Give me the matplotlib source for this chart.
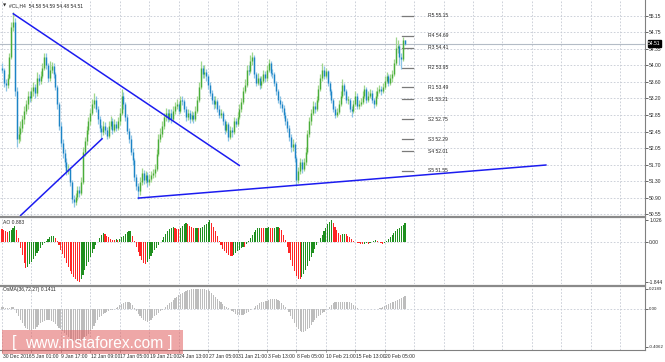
import numpy as np
import matplotlib
matplotlib.use("Agg")
import matplotlib.pyplot as plt
from matplotlib.patches import Rectangle
from matplotlib.lines import Line2D

plt.rcParams["font.family"] = ["Liberation Sans", "DejaVu Sans"]

# ---------------- data ----------------
opens = [
    53.95, 53.90, 53.60, 53.55, 53.72, 54.20, 54.90, 55.00, 53.40, 52.30,
    52.40, 52.55, 52.75, 52.95, 53.10, 53.30, 53.25, 53.40, 53.50, 53.35,
    53.70, 53.65, 53.76, 53.95, 54.20, 54.00, 53.70, 53.90, 53.99, 53.80,
    53.50, 53.10, 52.60, 52.20, 51.96, 51.75, 51.55, 51.60, 51.30, 50.90,
    50.82, 50.95, 51.10, 51.05, 51.30, 52.00, 52.25, 52.50, 52.70, 52.90,
    53.10, 53.20, 53.00, 52.75, 52.55, 52.45, 52.60, 52.50, 52.37, 52.60,
    52.70, 52.50, 52.65, 52.55, 52.70, 52.90, 53.30, 53.10, 52.80, 52.48,
    52.30, 52.00, 51.80, 51.40, 51.20, 51.08, 51.30, 51.50, 51.35, 51.45,
    51.30, 51.37, 51.45, 51.50, 51.60, 51.95, 52.30, 52.42, 52.60, 52.80,
    52.90, 52.75, 52.90, 52.75, 52.95, 53.05, 53.10, 52.95, 53.20, 53.18,
    53.00, 52.80, 52.90, 52.75, 52.85, 52.75, 52.95, 53.20, 53.50, 53.95,
    53.80, 53.85, 53.75, 53.55, 53.35, 53.20, 53.10, 53.17, 53.00, 52.85,
    52.90, 52.70, 52.50, 52.63, 52.35, 52.50, 52.45, 52.70, 52.65, 52.81,
    53.00, 53.15, 53.40, 53.55, 53.90, 53.88, 54.10, 54.20, 53.80, 53.60,
    53.70, 53.54, 53.65, 53.80, 53.70, 53.90, 54.05, 53.83, 53.80, 53.60,
    53.40, 53.20, 53.10, 53.01, 52.85, 52.70, 52.55, 52.35, 52.10, 52.17,
    51.85, 51.35, 51.55, 51.75, 51.60, 51.75, 52.00, 52.40, 52.70, 52.90,
    53.05, 53.00, 53.20, 53.45, 53.70, 53.90, 53.75, 53.86, 53.60, 53.40,
    53.20, 53.00, 52.85, 52.93, 53.10, 53.30, 53.55, 53.40, 53.20, 53.20,
    53.00, 52.95, 53.10, 53.30, 53.05, 53.11, 53.15, 53.30, 53.45, 53.20,
    53.30, 53.36, 53.20, 53.10, 53.30, 53.40, 53.45, 53.40, 53.50, 53.65,
    53.75, 53.60, 53.70, 53.80, 54.05, 54.40, 54.45, 54.20, 54.15, 54.58,
]
closes = [
    53.90, 53.60, 53.55, 53.72, 54.20, 54.90, 55.00, 53.40, 52.30, 52.40,
    52.55, 52.75, 52.95, 53.10, 53.30, 53.25, 53.40, 53.50, 53.35, 53.70,
    53.65, 53.76, 53.95, 54.20, 54.00, 53.70, 53.90, 53.99, 53.80, 53.50,
    53.10, 52.60, 52.20, 51.96, 51.75, 51.55, 51.60, 51.30, 50.90, 50.82,
    50.95, 51.10, 51.05, 51.30, 52.00, 52.25, 52.50, 52.70, 52.90, 53.10,
    53.20, 53.00, 52.75, 52.55, 52.45, 52.60, 52.50, 52.37, 52.60, 52.70,
    52.50, 52.65, 52.55, 52.70, 52.90, 53.30, 53.10, 52.80, 52.48, 52.30,
    52.00, 51.80, 51.40, 51.20, 51.08, 51.30, 51.50, 51.35, 51.45, 51.30,
    51.37, 51.45, 51.50, 51.60, 51.95, 52.30, 52.42, 52.60, 52.80, 52.90,
    52.75, 52.90, 52.75, 52.95, 53.05, 53.10, 52.95, 53.20, 53.18, 53.00,
    52.80, 52.90, 52.75, 52.85, 52.75, 52.95, 53.20, 53.50, 53.95, 53.80,
    53.85, 53.75, 53.55, 53.35, 53.20, 53.10, 53.17, 53.00, 52.85, 52.90,
    52.70, 52.50, 52.63, 52.35, 52.50, 52.45, 52.70, 52.65, 52.81, 53.00,
    53.15, 53.40, 53.55, 53.90, 53.88, 54.10, 54.20, 53.80, 53.60, 53.70,
    53.54, 53.65, 53.80, 53.70, 53.90, 54.05, 53.83, 53.80, 53.60, 53.40,
    53.20, 53.10, 53.01, 52.85, 52.70, 52.55, 52.35, 52.10, 52.17, 51.85,
    51.35, 51.55, 51.75, 51.60, 51.75, 52.00, 52.40, 52.70, 52.90, 53.05,
    53.00, 53.20, 53.45, 53.70, 53.90, 53.75, 53.86, 53.60, 53.40, 53.20,
    53.00, 52.85, 52.93, 53.10, 53.30, 53.55, 53.40, 53.20, 53.20, 53.00,
    52.95, 53.10, 53.30, 53.05, 53.11, 53.15, 53.30, 53.45, 53.20, 53.30,
    53.36, 53.20, 53.10, 53.30, 53.40, 53.45, 53.40, 53.50, 53.65, 53.75,
    53.60, 53.70, 53.80, 54.05, 54.40, 54.45, 54.20, 54.15, 54.58, 54.51,
]
highs = [
    54.05, 53.95, 53.68, 53.80, 54.30, 55.00, 55.24, 55.10, 53.50, 52.60,
    52.70, 52.85, 53.05, 53.20, 53.40, 53.40, 53.50, 53.62, 53.58, 53.85,
    53.80, 53.88, 54.05, 54.30, 54.28, 54.05, 54.10, 54.08, 54.05, 53.85,
    53.55, 53.15, 52.68, 52.30, 52.05, 51.85, 51.72, 51.65, 51.35, 51.00,
    51.05, 51.20, 51.20, 51.40, 52.10, 52.35, 52.60, 52.80, 53.00, 53.22,
    53.35, 53.28, 53.05, 52.82, 52.62, 52.70, 52.68, 52.58, 52.70, 52.82,
    52.78, 52.75, 52.72, 52.80, 53.02, 53.45, 53.38, 53.15, 52.88, 52.55,
    52.38, 52.08, 51.85, 51.48, 51.28, 51.40, 51.62, 51.58, 51.55, 51.52,
    51.48, 51.55, 51.60, 51.72, 52.05, 52.40, 52.55, 52.70, 52.90, 53.02,
    52.98, 53.00, 52.98, 53.05, 53.15, 53.22, 53.15, 53.30, 53.30, 53.22,
    53.05, 53.00, 52.96, 52.95, 52.92, 53.05, 53.30, 53.62, 54.10, 54.02,
    54.00, 53.92, 53.80, 53.62, 53.42, 53.28, 53.28, 53.22, 53.08, 53.00,
    52.95, 52.75, 52.72, 52.68, 52.60, 52.58, 52.80, 52.78, 52.92, 53.10,
    53.25, 53.50, 53.68, 54.00, 54.02, 54.25, 54.31, 54.25, 53.85, 53.82,
    53.75, 53.75, 53.90, 53.88, 54.00, 54.15, 54.10, 53.92, 53.85, 53.65,
    53.45, 53.28, 53.18, 53.08, 52.92, 52.78, 52.62, 52.42, 52.30, 52.22,
    51.90, 51.65, 51.85, 51.82, 51.85, 52.10, 52.50, 52.80, 53.00, 53.18,
    53.15, 53.30, 53.55, 53.80, 54.05, 53.98, 53.95, 53.90, 53.65, 53.45,
    53.25, 53.05, 53.02, 53.20, 53.40, 53.68, 53.60, 53.45, 53.30, 53.25,
    53.05, 53.20, 53.40, 53.35, 53.20, 53.25, 53.40, 53.55, 53.50, 53.40,
    53.45, 53.42, 53.25, 53.40, 53.50, 53.55, 53.52, 53.60, 53.75, 53.85,
    53.80, 53.80, 53.90, 54.15, 54.65, 54.60, 54.50, 54.30, 54.66, 54.59,
]
lows = [
    53.82, 53.50, 53.41, 53.48, 53.68, 54.15, 54.80, 53.30, 52.11, 52.20,
    52.25, 52.45, 52.65, 52.88, 53.00, 53.15, 53.18, 53.30, 53.25, 53.30,
    53.55, 53.58, 53.70, 53.90, 53.92, 53.62, 53.65, 53.82, 53.72, 53.42,
    53.00, 52.50, 52.10, 51.85, 51.65, 51.45, 51.48, 51.20, 50.80, 50.71,
    50.75, 50.88, 50.95, 51.00, 51.25, 51.90, 52.15, 52.42, 52.62, 52.85,
    53.02, 52.92, 52.65, 52.45, 52.30, 52.38, 52.40, 52.30, 52.32, 52.52,
    52.42, 52.45, 52.48, 52.50, 52.62, 52.85, 53.00, 52.72, 52.40, 52.20,
    51.92, 51.70, 51.32, 51.10, 50.91, 51.00, 51.22, 51.25, 51.28, 51.18,
    51.22, 51.30, 51.38, 51.42, 51.55, 51.90, 52.22, 52.35, 52.52, 52.72,
    52.68, 52.70, 52.66, 52.70, 52.88, 52.98, 52.88, 52.90, 53.08, 52.92,
    52.72, 52.74, 52.66, 52.70, 52.66, 52.70, 52.90, 53.15, 53.45, 53.70,
    53.72, 53.65, 53.45, 53.28, 53.10, 53.00, 53.02, 52.92, 52.78, 52.78,
    52.62, 52.40, 52.45, 52.25, 52.30, 52.35, 52.40, 52.56, 52.60, 52.75,
    52.92, 53.10, 53.35, 53.50, 53.78, 53.82, 54.02, 53.72, 53.52, 53.55,
    53.45, 53.48, 53.60, 53.62, 53.65, 53.85, 53.75, 53.72, 53.52, 53.32,
    53.12, 53.02, 52.92, 52.78, 52.62, 52.45, 52.25, 52.00, 52.02, 51.75,
    51.20, 51.28, 51.48, 51.50, 51.55, 51.70, 51.95, 52.35, 52.62, 52.85,
    52.90, 52.95, 53.15, 53.40, 53.65, 53.68, 53.70, 53.52, 53.32, 53.12,
    52.92, 52.78, 52.80, 52.88, 53.05, 53.25, 53.32, 53.12, 53.10, 52.92,
    52.80, 52.90, 53.05, 52.98, 53.00, 53.05, 53.10, 53.25, 53.12, 53.15,
    53.25, 53.12, 53.02, 53.05, 53.25, 53.35, 53.32, 53.35, 53.45, 53.60,
    53.52, 53.55, 53.62, 53.75, 54.00, 54.30, 54.00, 53.92, 54.10, 54.48,
]
ao_values = [
    0.62, 0.58, 0.52, 0.47, 0.50, 0.58, 0.68, 0.75, 0.55, 0.20,
    -0.25, -0.60, -0.95, -1.20, -1.15, -1.02, -0.90, -0.78, -0.65, -0.52,
    -0.40, -0.27, -0.15, -0.03, 0.08, 0.16, 0.22, 0.27, 0.29, 0.20,
    0.05, -0.15, -0.35, -0.55, -0.75, -0.95, -1.15, -1.32, -1.48, -1.60,
    -1.70, -1.78, -1.84, -1.70, -1.50, -1.30, -1.10, -0.90, -0.70, -0.50,
    -0.32, -0.15, 0.02, 0.20, 0.35, 0.43, 0.38, 0.30, 0.22, 0.15,
    0.12, 0.10, 0.13, 0.11, 0.15, 0.22, 0.30, 0.38, 0.45, 0.50,
    0.53, 0.30, 0.05, -0.20, -0.45, -0.65, -0.82, -0.95, -1.00, -0.90,
    -0.78, -0.65, -0.50, -0.38, -0.25, -0.12, 0.00, 0.12, 0.25, 0.38,
    0.50, 0.60, 0.68, 0.72, 0.68, 0.62, 0.60, 0.68, 0.76, 0.84,
    0.87, 0.82, 0.76, 0.70, 0.65, 0.66, 0.68, 0.64, 0.66, 0.70,
    0.78, 0.86, 0.95, 1.01, 0.90, 0.70, 0.50, 0.28, 0.05, -0.15,
    -0.30, -0.42, -0.52, -0.58, -0.62, -0.64, -0.58, -0.50, -0.42, -0.35,
    -0.27, -0.20, -0.22, -0.08, 0.05, 0.18, 0.32, 0.45, 0.56, 0.64,
    0.68, 0.66, 0.64, 0.65, 0.67, 0.69, 0.68, 0.66, 0.67, 0.69,
    0.70, 0.66, 0.55, 0.35, 0.10, -0.20, -0.50, -0.80, -1.10, -1.35,
    -1.55, -1.68, -1.72, -1.60, -1.45, -1.28, -1.08, -0.88, -0.68, -0.48,
    -0.30, -0.14, 0.02, 0.18, 0.35, 0.52, 0.68, 0.82, 0.94, 1.03,
    0.90, 0.72, 0.55, 0.42, 0.35, 0.37, 0.40, 0.38, 0.30, 0.22,
    0.15, 0.08, 0.03, -0.02, -0.05, -0.06, -0.07, -0.06, -0.05, -0.06,
    -0.05, 0.02, 0.06, 0.10, 0.06, 0.00, -0.04, -0.06, -0.03, 0.05,
    0.15, 0.25, 0.35, 0.44, 0.52, 0.60, 0.68, 0.75, 0.80, 0.883,
]
osma_values = [
    0.020, 0.020, 0.015, 0.010, 0.015, 0.020, 0.025, 0.000, -0.040, -0.080,
    -0.120, -0.150, -0.180, -0.200, -0.220, -0.230, -0.230, -0.220, -0.210, -0.190,
    -0.170, -0.150, -0.140, -0.130, -0.120, -0.120, -0.120, -0.130, -0.140, -0.160,
    -0.180, -0.200, -0.220, -0.240, -0.260, -0.280, -0.300, -0.320, -0.330, -0.340,
    -0.350, -0.350, -0.350, -0.340, -0.330, -0.310, -0.290, -0.270, -0.240, -0.210,
    -0.180, -0.150, -0.120, -0.090, -0.070, -0.050, -0.040, -0.030, -0.020, -0.015,
    -0.010, 0.000, 0.010, 0.025, 0.040, 0.055, 0.065, 0.075, 0.080, 0.075,
    0.065, 0.040, 0.010, -0.020, -0.050, -0.080, -0.100, -0.120, -0.130, -0.140,
    -0.130, -0.120, -0.100, -0.080, -0.060, -0.040, -0.020, -0.010, 0.000, 0.020,
    0.040, 0.060, 0.080, 0.100, 0.120, 0.130, 0.150, 0.160, 0.170, 0.180,
    0.190, 0.200, 0.200, 0.210, 0.210, 0.210, 0.220, 0.220, 0.220, 0.220,
    0.210, 0.200, 0.200, 0.190, 0.170, 0.150, 0.130, 0.110, 0.090, 0.070,
    0.050, 0.035, 0.020, 0.010, 0.000, -0.020, -0.035, -0.050, -0.060, -0.065,
    -0.065, -0.060, -0.050, -0.040, -0.030, -0.015, 0.000, 0.015, 0.030, 0.045,
    0.060, 0.070, 0.080, 0.085, 0.090, 0.100, 0.105, 0.110, 0.110, 0.110,
    0.100, 0.085, 0.065, 0.045, 0.020, 0.000, -0.030, -0.070, -0.110, -0.150,
    -0.190, -0.220, -0.240, -0.250, -0.250, -0.240, -0.220, -0.200, -0.170, -0.140,
    -0.120, -0.100, -0.080, -0.060, -0.045, -0.030, -0.015, 0.000, 0.020, 0.040,
    0.060, 0.070, 0.075, 0.080, 0.080, 0.080, 0.080, 0.080, 0.075, 0.070,
    0.060, 0.045, 0.030, 0.015, 0.005, 0.000, 0.000, -0.005, -0.005, 0.000,
    0.000, 0.005, 0.005, 0.000, 0.005, 0.010, 0.015, 0.020, 0.030, 0.040,
    0.050, 0.060, 0.070, 0.080, 0.090, 0.100, 0.110, 0.120, 0.130, 0.1411,
]
time_labels = ["30 Dec 2016", "5 Jan 01:00", "9 Jan 17:00", "12 Jan 09:00",
               "17 Jan 05:00", "19 Jan 21:00", "24 Jan 13:00", "27 Jan 05:00",
               "31 Jan 21:00", "3 Feb 13:00", "8 Feb 05:00", "10 Feb 21:00",
               "15 Feb 13:00", "20 Feb 05:00"]
price_tick_labels = ["55.15", "54.75", "54.35", "54.00", "53.60", "53.20", "52.85",
                     "52.45", "52.05", "51.70", "51.30", "50.90", "50.55"]
pivot_names = ["R5", "R4", "R3", "R2", "R1", "S1", "S2", "S3", "S4", "S5"]
pivot_values = [55.15, 54.69, 54.41, 53.95, 53.49, 53.21, 52.75, 52.29, 52.01, 51.55]
# trend lines: (bar index, price) endpoints
trend_lines = [((5.8, 55.21), (129.3, 51.67)),
               ((9.8, 50.505), (54.7, 52.31)),
               ((73.75, 50.92), (296.0, 51.69))]
last_price = 54.51

# ---------------- figure ----------------
W, H = 665, 362
fig = plt.figure(figsize=(W / 100, H / 100), dpi=100)
fig.patch.set_facecolor("white")


def ax_px(x0, y0, x1, y1):
    return fig.add_axes([x0 / W, 1 - y1 / H, (x1 - x0) / W, (y1 - y0) / H])


DX = 1.84
X0 = 2.0
XR = 645.0
xlim = (-X0 / DX, (XR - X0) / DX)
grid_kw = dict(color="#c5cad3", lw=0.6, ls=(0, (2, 2)))
fs = 3.6
txt_col = "#2a2a2a"

ax = ax_px(0, 0, 645, 216)
ax_ao = ax_px(0, 218, 645, 284)
ax_os = ax_px(0, 287, 645, 350)

xgrid = np.arange(0, xlim[1], 16)
for a in (ax, ax_ao, ax_os):
    a.set_xlim(*xlim)
    a.set_facecolor("white")
    for s in ("top", "left", "bottom"):
        a.spines[s].set_visible(False)
    a.spines["right"].set_color("#808080")
    a.spines["right"].set_linewidth(0.8)
    a.yaxis.tick_right()
    a.tick_params(axis="y", labelsize=fs, length=2, pad=1.0, width=0.5,
                  colors=txt_col)
    a.set_xticks(xgrid)
    a.tick_params(axis="x", length=0, labelbottom=False)
    for gx in xgrid:
        a.axvline(gx, zorder=0, **grid_kw)

# ---- main price panel ----
o = np.array(opens); c = np.array(closes)
hi = np.array(highs); lo = np.array(lows)
xb = np.arange(len(c))
up = c >= o
wick_col = np.where(up, "#9fd68c", "#8cc4e6")
body_col = np.where(up, "#4aad3a", "#1d84c6")
ymin, ymax = 50.505, 55.52
ax.set_ylim(ymin, ymax)
pticks = np.linspace(55.15, 50.55, len(price_tick_labels))
ax.set_yticks(pticks)
ax.set_yticklabels(price_tick_labels)
for py in pticks:
    ax.axhline(py, zorder=0, **grid_kw)
ax.axhline(last_price, color="#b4bcc6", lw=0.8, zorder=1)
ax.vlines(xb, lo, hi, colors=wick_col, lw=0.9, zorder=3)
blo = np.minimum(o, c); bhi = np.maximum(o, c)
bhi = np.where(bhi - blo < 0.02, blo + 0.02, bhi)
ax.vlines(xb, blo, bhi, colors=body_col, lw=1.0, zorder=4)

for (xa, ya), (xe, ye) in trend_lines:
    ax.plot([xa, xe], [ya, ye], color="#1c1cf0", lw=1.1, zorder=5,
            solid_capstyle="butt")

seg_x0, seg_x1, lab_x = (401.7 - X0) / DX, (413.3 - X0) / DX, (428 - X0) / DX
for nm, pv in zip(pivot_names, pivot_values):
    ax.plot([seg_x0, seg_x1], [pv, pv], color="#7a7a7a", lw=0.9, zorder=2)
    ax.text(lab_x, pv, f"{nm} {pv:.2f}", fontsize=fs, color=txt_col,
            va="center", ha="left", zorder=6)

# price label box
ax.text(1.005, (last_price - ymin) / (ymax - ymin), f"{last_price:.2f}",
        transform=ax.transAxes, fontsize=fs, color="white", va="center",
        ha="left", zorder=10, clip_on=False,
        bbox=dict(boxstyle="square,pad=0.12", fc="black", ec="black"))

fig.text(3 / W, 1 - 5.5 / H, "\u25bc", fontsize=3.0, color=txt_col, va="center",
         ha="left", family="DejaVu Sans")
fig.text(9 / W, 1 - 5.5 / H, "#CL,H4  54.58 54.59 54.48 54.51", fontsize=fs,
         color=txt_col, va="center", ha="left")

# ---- AO panel ----
ao = np.array(ao_values)
xa = np.arange(len(ao))
prev = np.concatenate([[ao[0] + 1], ao[:-1]])
ao_col = np.where(ao > prev, "#1f8f1f", "#ff2424")
ax_ao.bar(xa, ao, width=0.62, color=ao_col, linewidth=0, zorder=3)
ax_ao.set_ylim(-1.93, 1.12)
ax_ao.set_yticks([1.026, 0.0, -1.844])
ax_ao.set_yticklabels(["1.026", "0.00", "-1.844"])
ax_ao.axhline(0, zorder=1, **grid_kw)
fig.text(3 / W, 1 - 222 / H, "AO 0.883", fontsize=fs, color=txt_col,
         va="center", ha="left")

# ---- OsMA panel ----
osv = np.array(osma_values)
xo = np.arange(len(osv))
ax_os.bar(xo, osv, width=0.62, color="#bdbdbd", linewidth=0, zorder=3)
ax_os.set_ylim(-0.441, 0.2366)
ax_os.set_yticks([0.2189, 0.0, -0.4062])
ax_os.set_yticklabels(["0.2189", "0.00", "-0.4062"])
ax_os.tick_params(axis="y", labelsize=3.2, pad=0.8)
ax_os.axhline(0, zorder=1, **grid_kw)
ax_os.spines["bottom"].set_visible(True)
ax_os.spines["bottom"].set_color("#808080")
ax_os.spines["bottom"].set_linewidth(0.8)
fig.text(3 / W, 1 - 290 / H, "OsMA(36,72,27) 0.1411", fontsize=fs,
         color=txt_col, va="center", ha="left")

# time labels
for i, lab in enumerate(time_labels):
    xx = i * 16
    ax_os.text(xx + 0.3, -0.06, lab, transform=ax_os.get_xaxis_transform(),
               fontsize=fs, color=txt_col, ha="left", va="top", clip_on=False)
    ax_os.plot([xx, xx], [0, -0.035], transform=ax_os.get_xaxis_transform(),
               color="#808080", lw=0.5, clip_on=False)

# panel separators
for yy in (216.8, 285.8):
    fig.add_artist(Line2D([0, 645 / W], [1 - yy / H, 1 - yy / H], color="#8a8a8a",
                          lw=1.6, transform=fig.transFigure))

# watermark
fig.add_artist(Rectangle((2 / W, 1 - 354 / H), 181 / W, 24 / H,
                         transform=fig.transFigure, facecolor="#e06060",
                         alpha=0.55, edgecolor="none", zorder=20))
fig.text(12 / W, 1 - 343 / H, "[", fontsize=12, color="white", va="center",
         ha="left", zorder=21)
fig.text(25 / W, 1 - 343 / H, "www.instaforex.com", fontsize=11.2, color="white",
         va="center", ha="left", zorder=21)
fig.text(168 / W, 1 - 343 / H, "]", fontsize=12, color="white", va="center",
         ha="left", zorder=21)

fig.savefig("out.png", dpi=100, facecolor="white")
